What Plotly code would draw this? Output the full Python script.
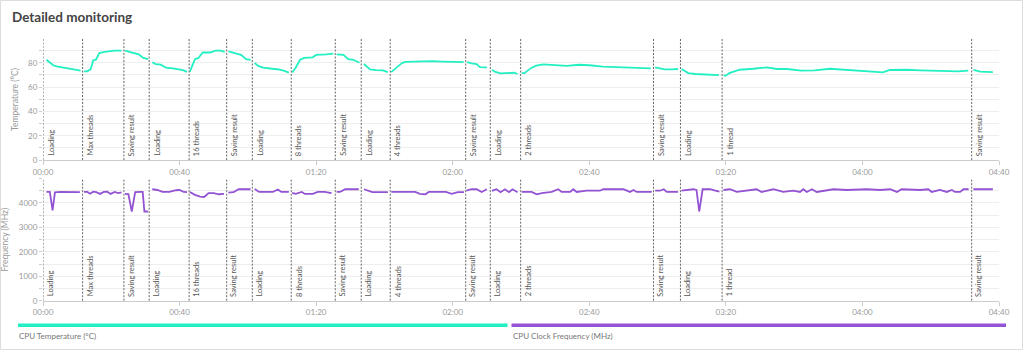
import plotly.graph_objects as go

# ---------------- data ----------------
stage_names = ["Loading", "Max threads", "Saving result", "Loading", "16 threads", "Saving result",
               "Loading", "8 threads", "Saving result", "Loading", "4 threads", "Saving result",
               "Loading", "2 threads", "Saving result", "Loading", "1 thread", "Saving result"]
stage_starts = [0, 11.6, 23.7, 31.1, 42.8, 53.8, 61.3, 72.7, 85.6, 93.2, 101.7, 123.8,
                131.0, 139.9, 178.8, 186.7, 198.9, 272.0]

# minutes since start (None = gap between stages)
temp_time = [1, 2, 3, 4, 5, 6, 7, 8, 9, 10, 11, None,
             12, 13, 14, 14.7, 15.5, 16.5, 18, 19.5, 21, 23, None,
             24, 25.5, 27, 28, 29.4, 30.8, None,
             32, 33, 34.5, 36, 38, 40, 41, 42.2, None,
             43, 44.5, 45.5, 46.8, 49, 50.5, 52, 53.2, None,
             54.3, 55.5, 57, 58, 59.5, 60.8, None,
             62, 63, 64.5, 67, 69, 70.5, 72, None,
             73, 74, 75.3, 76.5, 79, 80, 83, 85, None,
             86, 87, 88, 89.4, 90.9, 92.7, None,
             94, 95.8, 97.5, 99.5, 101, None,
             102, 103, 104, 105, 106, 108, 111, 114, 117, 120, 123.2, None,
             124.2, 125.5, 127, 128, 130, None,
             131.5, 132.5, 134, 136, 138, 139, None,
             140.2, 141, 143, 144.5, 146.5, 150, 153.4, 157, 160, 164, 170, 178, None,
             179.3, 180.5, 182, 184, 186, None,
             187, 188, 189, 191, 193, 195.4, 198, None,
             199.3, 200, 201, 204, 208, 212, 215, 218, 222, 226, 230.5, 235, 240, 246, 248, 253,
             257, 261, 265, 268, 271, None,
             272.5, 274.5, 278.2]
temp_vals = [82.5, 80, 78, 77, 76.5, 76.5, 76, 75.5, 75, 74.5, 73.5, None,
             73, 73, 75, 82, 82.5, 88, 89, 89.5, 90, 90, None,
             90, 89, 88, 87, 84, 83, None,
             80.5, 79, 78.5, 76, 75.5, 74.5, 74, 72.5, None,
             72.5, 83, 84, 88.5, 88.5, 90, 90, 89, None,
             89.5, 88.5, 87, 86.5, 83, 82.5, None,
             80, 77.5, 76, 75.5, 74.5, 73.5, 72, None,
             72, 76, 82.5, 84, 84.5, 86.5, 87, 87.5, None,
             87, 87, 86.5, 83, 82.5, 80, None,
             79, 74.5, 74, 73.8, 72.3, None,
             72.3, 74.5, 77.5, 79.5, 80.8, 81, 81.2, 81.4, 81, 80.8, 80.5, None,
             80.5, 79.5, 79, 76.5, 76.3, None,
             74.3, 72.5, 71.3, 71.8, 71.8, 70.8, None,
             71.5, 71.5, 75.8, 77.6, 78.7, 78.3, 77.5, 78.4, 78, 76.8, 76.2, 75.4, None,
             76.2, 75.5, 74.6, 74.6, 74.9, None,
             74.9, 73, 71.6, 70.8, 70.6, 70.2, 69.9, None,
             69.4, 69.4, 71.6, 74.3, 75.1, 76.2, 74.9, 74.9, 73.5, 73.8, 75.1, 74.3, 73.2, 72.2, 74.1, 74.3,
             73.8, 73.5, 72.7, 73, 73.5, None,
             74.1, 72.7, 72.4]

freq_time = [1, 2, 2.8, 3.5, 5, 7, 9, 10.8, None,
             12, 13, 13.8, 14.7, 15.6, 16.7, 17.8, 18.8, 19.8, 21, 22, 23, None,
             24, 25, 26, 27, 28.5, 29.2, 29.7, 30.8, None,
             32, 33.5, 35, 37, 39, 40, 41.2, 42.2, None,
             43, 44.5, 46, 47.2, 48.5, 50, 51.5, 53, None,
             54.3, 55.8, 57.3, 59.2, 60.8, None,
             62, 63.3, 65.3, 67.3, 68.8, 69.8, 72, None,
             73, 74, 75.8, 76.7, 79, 80.5, 82.5, 84.5, None,
             86, 87, 88.5, 90, 92.5, None,
             94, 95, 96.5, 101, None,
             102, 106, 109, 110.4, 112, 113, 116, 118, 119.7, 121.5, 123.3, None,
             124, 125.5, 127, 128.5, 130, None,
             131.5, 132.8, 134, 135.3, 136.5, 137.5, 139, None,
             140.2, 143.1, 144.6, 146.1, 149, 150.9, 151.9, 154.4, 155.3, 156.3, 159.2, 163.1,
             164.1, 170, 171.9, 172.9, 173.9, 178.3, None,
             179.3, 180.7, 181.8, 182.7, 185, 186, None,
             187, 188.5, 190.5, 191.4, 192.2, 193.2, 195.4, 196.9, 198.1, None,
             199.3, 201.2, 203.2, 206.1, 209.0, 210.5, 213.9, 216.8, 219.8, 221.7, 222.7, 223.7,
             225.2, 226.6, 229.6, 231.5, 235.4, 241.3, 245.2, 248.1, 250.1, 251.5, 256.9, 259.3,
             260.3, 262.7, 264.7, 266.2, 267.1, 268.6, 269.6, 271.1, None,
             272.5, 275, 278.2]
freq_vals = [4450, 4450, 3700, 4430, 4450, 4450, 4440, 4440, None,
             4450, 4450, 4380, 4460, 4440, 4370, 4450, 4460, 4370, 4450, 4400, 4430, None,
             4370, 4360, 3650, 4440, 4450, 4450, 3650, 3650, None,
             4560, 4530, 4450, 4450, 4520, 4530, 4450, 4440, None,
             4450, 4330, 4260, 4245, 4400, 4400, 4355, 4370, None,
             4420, 4440, 4560, 4560, 4560, None,
             4570, 4450, 4450, 4450, 4550, 4450, 4450, None,
             4410, 4370, 4450, 4370, 4370, 4450, 4450, 4400, None,
             4450, 4450, 4560, 4560, 4560, None,
             4560, 4500, 4440, 4440, None,
             4450, 4450, 4450, 4370, 4355, 4450, 4450, 4450, 4370, 4440, 4440, None,
             4500, 4560, 4560, 4450, 4560, None,
             4490, 4560, 4440, 4560, 4440, 4560, 4440, None,
             4450, 4450, 4355, 4400, 4450, 4560, 4450, 4450, 4560, 4450, 4500, 4500,
             4560, 4560, 4450, 4530, 4450, 4450, None,
             4500, 4500, 4560, 4450, 4450, 4450, None,
             4500, 4530, 4560, 4530, 3650, 4560, 4560, 4500, 4460, None,
             4530, 4560, 4450, 4500, 4560, 4450, 4560, 4450, 4500, 4450, 4560, 4450,
             4560, 4450, 4500, 4560, 4530, 4560, 4530, 4560, 4450, 4560, 4530, 4560,
             4450, 4530, 4450, 4530, 4450, 4450, 4560, 4560, None,
             4560, 4560, 4560]

x_tick_vals = [0, 40, 80, 120, 160, 200, 240, 280]
x_tick_text = ["00:00", "00:40", "01:20", "02:00", "02:40", "03:20", "04:00", "04:40"]
temp_tick_vals = [0, 10, 20, 30, 40, 50, 60, 70, 80, 90]
temp_tick_text = ["0", "", "20", "", "40", "", "60", "", "80", ""]
freq_tick_vals = [0, 500, 1000, 1500, 2000, 2500, 3000, 3500, 4000, 4500, 5000]
freq_tick_text = ["0", "", "1000", "", "2000", "", "3000", "", "4000", "", ""]

series_names = ["CPU Temperature (°C)", "CPU Clock Frequency (MHz)"]
series_colors = ["#22f0c2", "#9353d3"]

# ---------------- figure ----------------
W, H = 1024, 352
FONT = "Lato"

def px(x):
    return x / W

def py(y):
    return 1 - y / H

fig = go.Figure()
fig.add_trace(go.Scatter(x=temp_time, y=temp_vals, mode="lines", name=series_names[0],
                         line=dict(color=series_colors[0], width=1.8), connectgaps=False,
                         xaxis="x", yaxis="y", showlegend=False))
fig.add_trace(go.Scatter(x=freq_time, y=freq_vals, mode="lines", name=series_names[1],
                         line=dict(color=series_colors[1], width=1.8), connectgaps=False,
                         xaxis="x2", yaxis="y2", showlegend=False))

xdom = [px(43), px(999)]
common_x = dict(range=[0, 280], tickvals=x_tick_vals, ticktext=x_tick_text, automargin=False,
                showgrid=False, zeroline=False, showline=True, linecolor="#cccccc", linewidth=1,
                ticks="outside", ticklen=4, tickcolor="#cccccc",
                tickfont=dict(family=FONT, size=8, color="#999999"), domain=xdom)
common_y = dict(showgrid=True, gridcolor="#eeeeee", gridwidth=1, zeroline=False, automargin=False,
                showline=False, ticks="outside", ticklen=3, tickcolor="#cccccc",
                tickfont=dict(family=FONT, size=8, color="#999999"))

fig.update_layout(
    width=W, height=H,
    margin=dict(l=0, r=0, t=0, b=0, pad=0),
    paper_bgcolor="white", plot_bgcolor="white",
    xaxis=dict(**common_x, anchor="y"),
    xaxis2=dict(**common_x, anchor="y2"),
    yaxis=dict(**common_y, range=[0, 99.6], tickvals=temp_tick_vals, ticktext=temp_tick_text,
               domain=[py(160), py(39)], anchor="x",
               title=dict(text="Temperature (°C)", font=dict(family=FONT, size=8.5, color="#999999"),
                          standoff=8)),
    yaxis2=dict(**common_y, range=[0, 5000], tickvals=freq_tick_vals, ticktext=freq_tick_text,
                domain=[py(300.7), py(178.5)], anchor="x2",
                title=dict(text="Frequency (MHz)", font=dict(family=FONT, size=8.5, color="#999999"),
                           standoff=8)),
    showlegend=False,
)

shapes = []
annotations = []
for xr, yr in (("x", "y"), ("x2", "y2")):
    for name, t in zip(stage_names, stage_starts):
        shapes.append(dict(type="line", xref=xr, yref=yr + " domain", x0=t, x1=t, y0=0, y1=1,
                           line=dict(color="#666666", width=1, dash="2px,1.5px")))
        annotations.append(dict(text=name, xref=xr, yref=yr + " domain", x=t, y=0,
                                xanchor="left", yanchor="bottom", textangle=-90, showarrow=False,
                                xshift=1, yshift=2,
                                font=dict(family=FONT, size=7.5, color="#555555")))

# card border
shapes.append(dict(type="rect", xref="paper", yref="paper", x0=px(0.5), x1=px(1022.5), y0=py(349.5), y1=py(0.5),
                   line=dict(color="#dddddd", width=1), fillcolor="rgba(0,0,0,0)", layer="below"))

# custom legend bars
shapes.append(dict(type="rect", xref="paper", yref="paper", x0=px(18), x1=px(507.5), y0=py(327), y1=py(323.5),
                   line=dict(width=0), fillcolor=series_colors[0]))
shapes.append(dict(type="rect", xref="paper", yref="paper", x0=px(511.5), x1=px(1006), y0=py(327), y1=py(323.5),
                   line=dict(width=0), fillcolor=series_colors[1]))
annotations.append(dict(text=series_names[0], xref="paper", yref="paper", x=px(17), y=py(329),
                        xanchor="left", yanchor="top", showarrow=False,
                        font=dict(family=FONT, size=8, color="#777777")))
annotations.append(dict(text=series_names[1], xref="paper", yref="paper", x=px(511), y=py(329),
                        xanchor="left", yanchor="top", showarrow=False,
                        font=dict(family=FONT, size=8, color="#777777")))
# title
annotations.append(dict(text="<b>Detailed monitoring</b>", xref="paper", yref="paper", x=px(10), y=py(7),
                        xanchor="left", yanchor="top", showarrow=False,
                        font=dict(family=FONT, size=13.5, color="#444444")))

fig.update_layout(shapes=shapes, annotations=annotations)
fig.write_html("out.html", config={"displayModeBar": False})
